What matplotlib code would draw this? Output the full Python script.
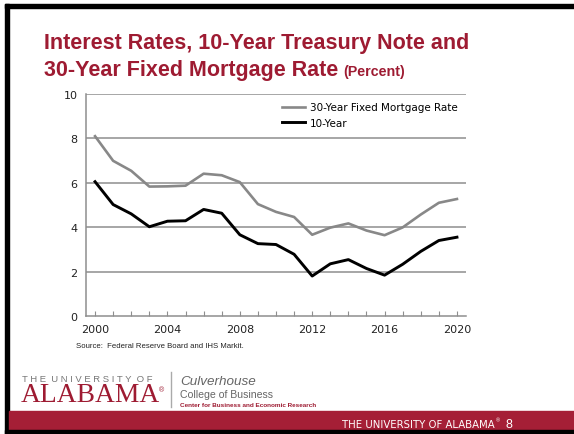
import matplotlib
matplotlib.use("Agg")
import matplotlib.pyplot as plt
from matplotlib.patches import Rectangle
from matplotlib.lines import Line2D

W, H = 574, 435
CRIMSON = '#9e1b32'
GRID = '#8e8e8e'

years = list(range(2000, 2021))
mortgage_30yr = [8.10, 6.99, 6.54, 5.83, 5.84, 5.87, 6.41, 6.34, 6.03, 5.04, 4.69,
                 4.46, 3.66, 3.98, 4.17, 3.85, 3.64, 3.99, 4.57, 5.10, 5.27]
treasury_10yr = [6.05, 5.02, 4.60, 4.02, 4.27, 4.29, 4.80, 4.63, 3.66, 3.26, 3.22,
                 2.78, 1.80, 2.35, 2.54, 2.14, 1.84, 2.33, 2.91, 3.40, 3.55]
xticks = [2000, 2004, 2008, 2012, 2016, 2020]
yticks = [0, 2, 4, 6, 8, 10]
series_names = ['30-Year Fixed Mortgage Rate', '10-Year']


def fx(x):
    return x / W


def fy(y):
    return 1 - y / H


fig = plt.figure(figsize=(W / 100, H / 100), dpi=100)
fig.patch.set_facecolor('white')

# slide frame and footer band
fig.patches.append(Rectangle((fx(5), 0), fx(4), fy(5), transform=fig.transFigure,
                             color='black', zorder=0))
fig.patches.append(Rectangle((fx(5), fy(9)), 1, fy(5) - fy(9), transform=fig.transFigure,
                             color='black', zorder=0))
fig.patches.append(Rectangle((fx(9), fy(431)), 1, fy(412) - fy(431), transform=fig.transFigure,
                             color='#a51f36', zorder=0))
fig.patches.append(Rectangle((fx(5), 0), 1, fy(431), transform=fig.transFigure,
                             color='black', zorder=0))

# title
fig.text(fx(44), fy(49), 'Interest Rates, 10-Year Treasury Note and', fontsize=15.5,
         fontweight='bold', color=CRIMSON, family='Liberation Sans', va='baseline')
fig.text(fx(44), fy(76), '30-Year Fixed Mortgage Rate', fontsize=15.5, fontweight='bold',
         color=CRIMSON, family='Liberation Sans', va='baseline')
fig.text(fx(343), fy(76), '(Percent)', fontsize=10.3, fontweight='bold',
         color=CRIMSON, family='Liberation Sans', va='baseline')

ax = fig.add_axes([fx(86), fy(317), fx(466) - fx(86), fy(95) - fy(317)])
ax.plot(years, mortgage_30yr, color='#888888', lw=1.9, label=series_names[0], zorder=3)
ax.plot(years, treasury_10yr, color='black', lw=2.1, label=series_names[1], zorder=4)

ax.set_xlim(1999.5, 2020.5)
ax.set_ylim(0, 10)
ax.set_xticks(years, minor=True)
ax.set_xticks(xticks)
ax.set_yticks(yticks)
for y in yticks[1:]:
    ax.axhline(y, color=GRID, lw=1.1, zorder=1)

for s in ['top', 'right']:
    ax.spines[s].set_visible(False)
for s in ['left', 'bottom']:
    ax.spines[s].set_color(GRID)
    ax.spines[s].set_linewidth(1.1)

ax.tick_params(axis='x', which='both', direction='in', length=3.5, width=0.8, color=GRID,
               labelsize=8, labelcolor='#222222', pad=6)
ax.tick_params(axis='y', length=0, labelsize=8, labelcolor='#222222', pad=6)

ax.legend(handles=[Line2D([], [], color='#888888', lw=1.9), Line2D([], [], color='black', lw=2.1)],
          labels=series_names, loc='upper right', bbox_to_anchor=(1.0, 1.0), frameon=False,
          fontsize=7.5, handlelength=2.2, handletextpad=0.5, labelspacing=0.5,
          borderaxespad=0.4)

fig.text(fx(76), fy(347), 'Source:  Federal Reserve Board and IHS Markit.', fontsize=5.6,
         color='#222222', family='Liberation Sans', va='center')

# university logo block
fig.text(fx(22), fy(382), 'T H E  U N I V E R S I T Y  O F', fontsize=6.8, color='#777777',
         family='Liberation Sans', va='baseline')
fig.text(fx(21), fy(402), 'ALABAMA', fontsize=19.8, color=CRIMSON, family='Liberation Serif',
         va='baseline')
fig.text(fx(159), fy(392), '®', fontsize=5, color=CRIMSON, family='Liberation Sans', va='baseline')
fig.add_artist(Line2D([fx(171), fx(171)], [fy(373), fy(408)], transform=fig.transFigure,
                      color='#aaaaaa', lw=1))
fig.text(fx(180), fy(385), 'Culverhouse', fontsize=9.7, style='italic', color='#666666',
         family='Liberation Sans', va='baseline')
fig.text(fx(180), fy(398), 'College of Business', fontsize=7.6, color='#666666',
         family='Liberation Sans', va='baseline')
fig.text(fx(180), fy(407.5), 'Center for Business and Economic Research', fontsize=4.6,
         fontweight='bold', color=CRIMSON, family='Liberation Sans', va='baseline')

# footer band text
fig.text(fx(495), fy(425), 'THE UNIVERSITY OF ALABAMA', fontsize=7.3, color='white',
         family='Liberation Sans Narrow', ha='right', va='center')
fig.text(fx(496), fy(423), '®', fontsize=4, color='white', family='Liberation Sans', va='bottom')
fig.text(fx(505), fy(425), '8', fontsize=9, color='white', family='Liberation Sans', va='center')

fig.savefig('out.png', dpi=100)
